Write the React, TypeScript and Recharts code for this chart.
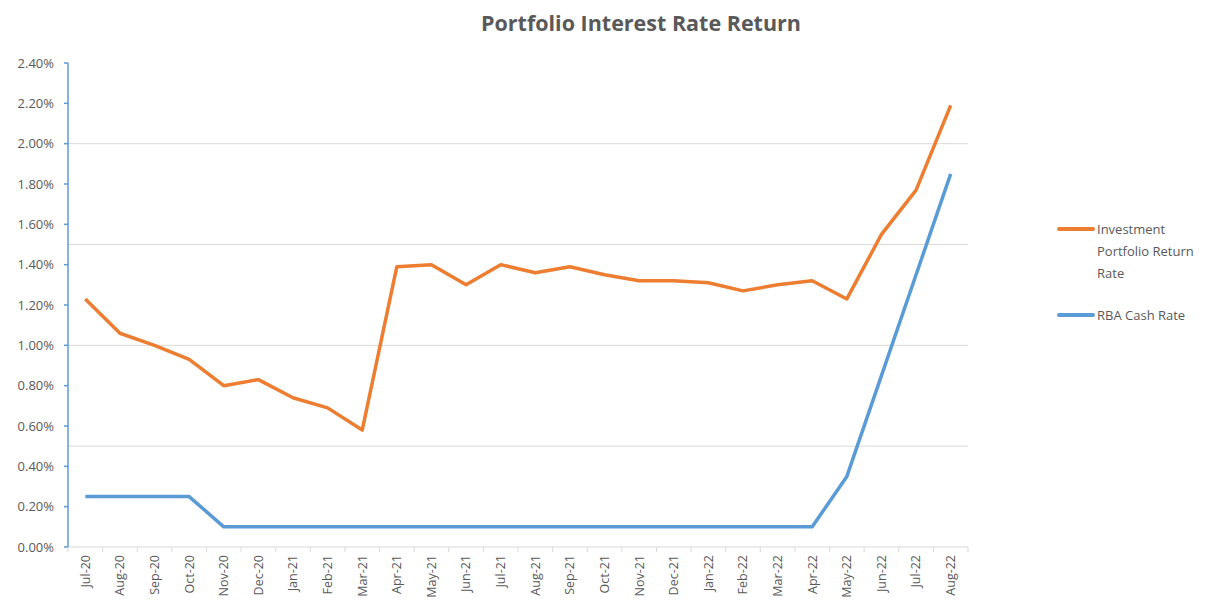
import React from "react";
import { LineChart, Line, XAxis, YAxis, ReferenceLine } from "recharts";

const months = ["Jul-20","Aug-20","Sep-20","Oct-20","Nov-20","Dec-20","Jan-21","Feb-21","Mar-21","Apr-21","May-21","Jun-21","Jul-21","Aug-21","Sep-21","Oct-21","Nov-21","Dec-21","Jan-22","Feb-22","Mar-22","Apr-22","May-22","Jun-22","Jul-22","Aug-22"];
const portfolioReturn = [1.23,1.06,1.0,0.93,0.8,0.83,0.74,0.69,0.58,1.39,1.4,1.3,1.4,1.36,1.39,1.35,1.32,1.32,1.31,1.27,1.3,1.32,1.23,1.55,1.77,2.19];
const rbaCashRate = [0.25,0.25,0.25,0.25,0.1,0.1,0.1,0.1,0.1,0.1,0.1,0.1,0.1,0.1,0.1,0.1,0.1,0.1,0.1,0.1,0.1,0.1,0.35,0.85,1.35,1.85];
const yTicks = [0,0.2,0.4,0.6,0.8,1.0,1.2,1.4,1.6,1.8,2.0,2.2,2.4];
const gridValues = [0.5,1.0,1.5,2.0];
const seriesNames = ["Investment Portfolio Return Rate", "RBA Cash Rate"];

const data = months.map((m, i) => ({ month: m, portfolio: portfolioReturn[i], rba: rbaCashRate[i] }));

const W = 1216;
const H = 600;
const M = { top: 55, right: 256, bottom: 6, left: 0 };
const Y_W = 60;
const X_H = 55;
const plotW = W - M.left - M.right - Y_W;
const half = plotW / months.length / 2;
const FONT = "'Open Sans', sans-serif";
const GRAY = "#595959";

const XTick = (props: any) => {
  const { x, y, payload, index } = props;
  const isLast = index === months.length - 1;
  return (
    <g transform={`translate(${x},${y})`}>
      <line x1={-half} y1={-8} x2={-half} y2={-3} stroke="#d9d9d9" strokeWidth={1} />
      {isLast && <line x1={half} y1={-8} x2={half} y2={-3} stroke="#d9d9d9" strokeWidth={1} />}
      <text transform="rotate(-90)" textAnchor="end" dy="0.35em" x={0} y={0} fill={GRAY} fontSize={12.5} fontFamily={FONT}>
        {payload.value}
      </text>
    </g>
  );
};

const colors = ["#ED7D31", "#5B9BD5"];

const LegendBox = () => (
  <div style={{ position: "absolute", left: 1049, top: 210, fontFamily: FONT, fontSize: 13, color: GRAY, width: 170 }}>
    {seriesNames.map((n, i) => (
      <div key={n} style={{ display: "flex", alignItems: "flex-start", marginBottom: 20 }}>
        <div style={{ width: 38, height: 4, background: colors[i], borderRadius: 2, marginTop: 9, marginRight: 2, flexShrink: 0 }} />
        <div style={{ width: 122, lineHeight: "22px" }}>{n}</div>
      </div>
    ))}
  </div>
);

export default function App() {
  return (
    <div style={{ position: "relative", width: W, height: H }}>
      <div style={{ position: "absolute", left: 0, width: 1266, top: 0, textAlign: "center", fontFamily: FONT, fontWeight: 700, fontSize: 21.5, color: GRAY }}>
        Portfolio Interest Rate Return
      </div>
      <LineChart width={W} height={H} data={data} margin={M}>
        {gridValues.map((v) => (
          <ReferenceLine key={v} y={v} stroke="#d9d9d9" strokeWidth={1} ifOverflow="extendDomain" />
        ))}
        <XAxis
          dataKey="month"
          interval={0}
          height={X_H}
          padding={{ left: half, right: half }}
          tick={<XTick />}
          tickLine={false}
          tickSize={6}
          tickMargin={2}
          axisLine={{ stroke: "#d9d9d9" }}
        />
        <YAxis
          width={Y_W}
          domain={[0, 2.4]}
          ticks={yTicks}
          interval={0}
          tickFormatter={(v: number) => `${v.toFixed(2)}%`}
          tick={{ fill: GRAY, fontSize: 13, fontFamily: FONT }}
          tickSize={4}
          tickMargin={10}
          axisLine={{ stroke: "#5B9BD5", strokeWidth: 1.5 }}
          tickLine={{ stroke: "#5B9BD5", strokeWidth: 1.5 }}
        />
        <Line dataKey="portfolio" name={seriesNames[0]} stroke={colors[0]} strokeWidth={3.5} dot={false} isAnimationActive={false} strokeLinejoin="round" />
        <Line dataKey="rba" name={seriesNames[1]} stroke={colors[1]} strokeWidth={3.5} dot={false} isAnimationActive={false} strokeLinejoin="round" />
      </LineChart>
      <LegendBox />
    </div>
  );
}
